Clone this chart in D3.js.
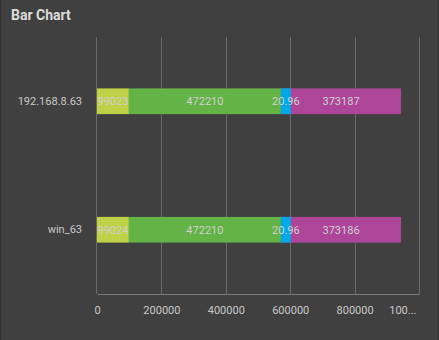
<!DOCTYPE html>
<html>
<head>
<meta charset="utf-8" />
<title>Bar Chart</title>
<style>
  html, body { margin: 0; padding: 0; background: #404040; }
  #chart { width: 439px; height: 340px; }
  text { font-family: Roboto, "Noto Sans", sans-serif; }
</style>
</head>
<body>
<div id="chart"></div>
<script src="https://cdnjs.cloudflare.com/ajax/libs/d3/7.8.5/d3.min.js"></script>
<script>
// data
const hosts = ["192.168.8.63", "win_63"];
const seriesNames = ["s1", "s2", "s3", "s4"];
const seriesColors = ["#bfd147", "#63b346", "#00a9e6", "#ad4598"];
const s1 = [99023, 99024];
const s2 = [472210, 472210];
const s3 = [20.96, 20.96];
const s4 = [373187, 373186];
const xTicks = [0, 200000, 400000, 600000, 800000, 1000000];

const width = 439, height = 340;
const margin = { top: 37, right: 20, bottom: 46, left: 97 };

const svg = d3.select("#chart").append("svg")
  .attr("width", width)
  .attr("height", height);

// panel edges
svg.append("rect").attr("x", 0).attr("y", 0).attr("width", 1).attr("height", height).attr("fill", "#333");
svg.append("rect").attr("x", width - 1).attr("y", 0).attr("width", 1).attr("height", height).attr("fill", "#333");

svg.append("text")
  .attr("x", 11).attr("y", 20)
  .attr("fill", "#dcdcdc")
  .attr("font-size", 14)
  .attr("font-weight", "bold")
  .text("Bar Chart");

const x = d3.scaleLinear()
  .domain([0, 1000000])
  .range([margin.left, width - margin.right]);

const y = d3.scaleBand()
  .domain(hosts)
  .range([margin.top, height - margin.bottom])
  .paddingInner(0.8)
  .paddingOuter(0.4);

// gridlines
svg.append("g").selectAll("line")
  .data(xTicks.slice(1))
  .join("line")
  .attr("x1", d => Math.round(x(d)) + 0.5)
  .attr("x2", d => Math.round(x(d)) + 0.5)
  .attr("y1", margin.top)
  .attr("y2", height - margin.bottom)
  .attr("stroke", "#6a6a6a");

// x axis
const xAxis = svg.append("g")
  .attr("transform", `translate(0,${height - margin.bottom})`)
  .call(d3.axisBottom(x).tickValues(xTicks).tickSize(0).tickPadding(12)
    .tickFormat(d => d >= 1000000 ? "100..." : d3.format("d")(d)));
xAxis.select(".domain").attr("stroke", "#7a7a7a");
xAxis.selectAll("text").attr("fill", "#c8c8c8").attr("font-size", 11);
// last label is truncated and kept inside the panel
xAxis.selectAll(".tick").filter(d => d >= 1000000).select("text")
  .attr("text-anchor", "end")
  .attr("dx", -3);

// y axis
svg.append("line")
  .attr("x1", margin.left - 0.5).attr("x2", margin.left - 0.5)
  .attr("y1", margin.top).attr("y2", height - margin.bottom)
  .attr("stroke", "#6a6a6a");
const yAxis = svg.append("g")
  .attr("transform", `translate(${margin.left},0)`)
  .call(d3.axisLeft(y).tickSize(0).tickPadding(15));
yAxis.select(".domain").remove();
yAxis.selectAll("text").attr("fill", "#c8c8c8").attr("font-size", 11);

// stacked segments
const allSeries = [s1, s2, s3, s4];
const rows = hosts.map((h, i) => {
  let acc = 0;
  return allSeries.map((s, k) => {
    const seg = { host: h, k, v: s[i], x0: acc, x1: acc + s[i] };
    acc += s[i];
    return seg;
  });
}).flat();

// draw tiny segments last with a minimum width so they stay visible
const minW = 10;
const ordered = rows.slice().sort((a, b) =>
  ((x(a.x1) - x(a.x0)) < minW) - ((x(b.x1) - x(b.x0)) < minW));

const bars = svg.append("g");
bars.selectAll("rect")
  .data(ordered)
  .join("rect")
  .attr("x", d => x(d.x0))
  .attr("y", d => y(d.host))
  .attr("width", d => Math.max(minW, x(d.x1) - x(d.x0)))
  .attr("height", y.bandwidth())
  .attr("fill", d => seriesColors[d.k]);

bars.selectAll("text")
  .data(ordered)
  .join("text")
  .attr("x", d => x(d.x0) + Math.max(minW, x(d.x1) - x(d.x0)) / 2)
  .attr("y", d => y(d.host) + y.bandwidth() / 2)
  .attr("dy", "0.35em")
  .attr("text-anchor", "middle")
  .attr("fill", "#d0d0d0")
  .attr("font-size", 11)
  .text(d => d.v);
</script>
</body>
</html>
